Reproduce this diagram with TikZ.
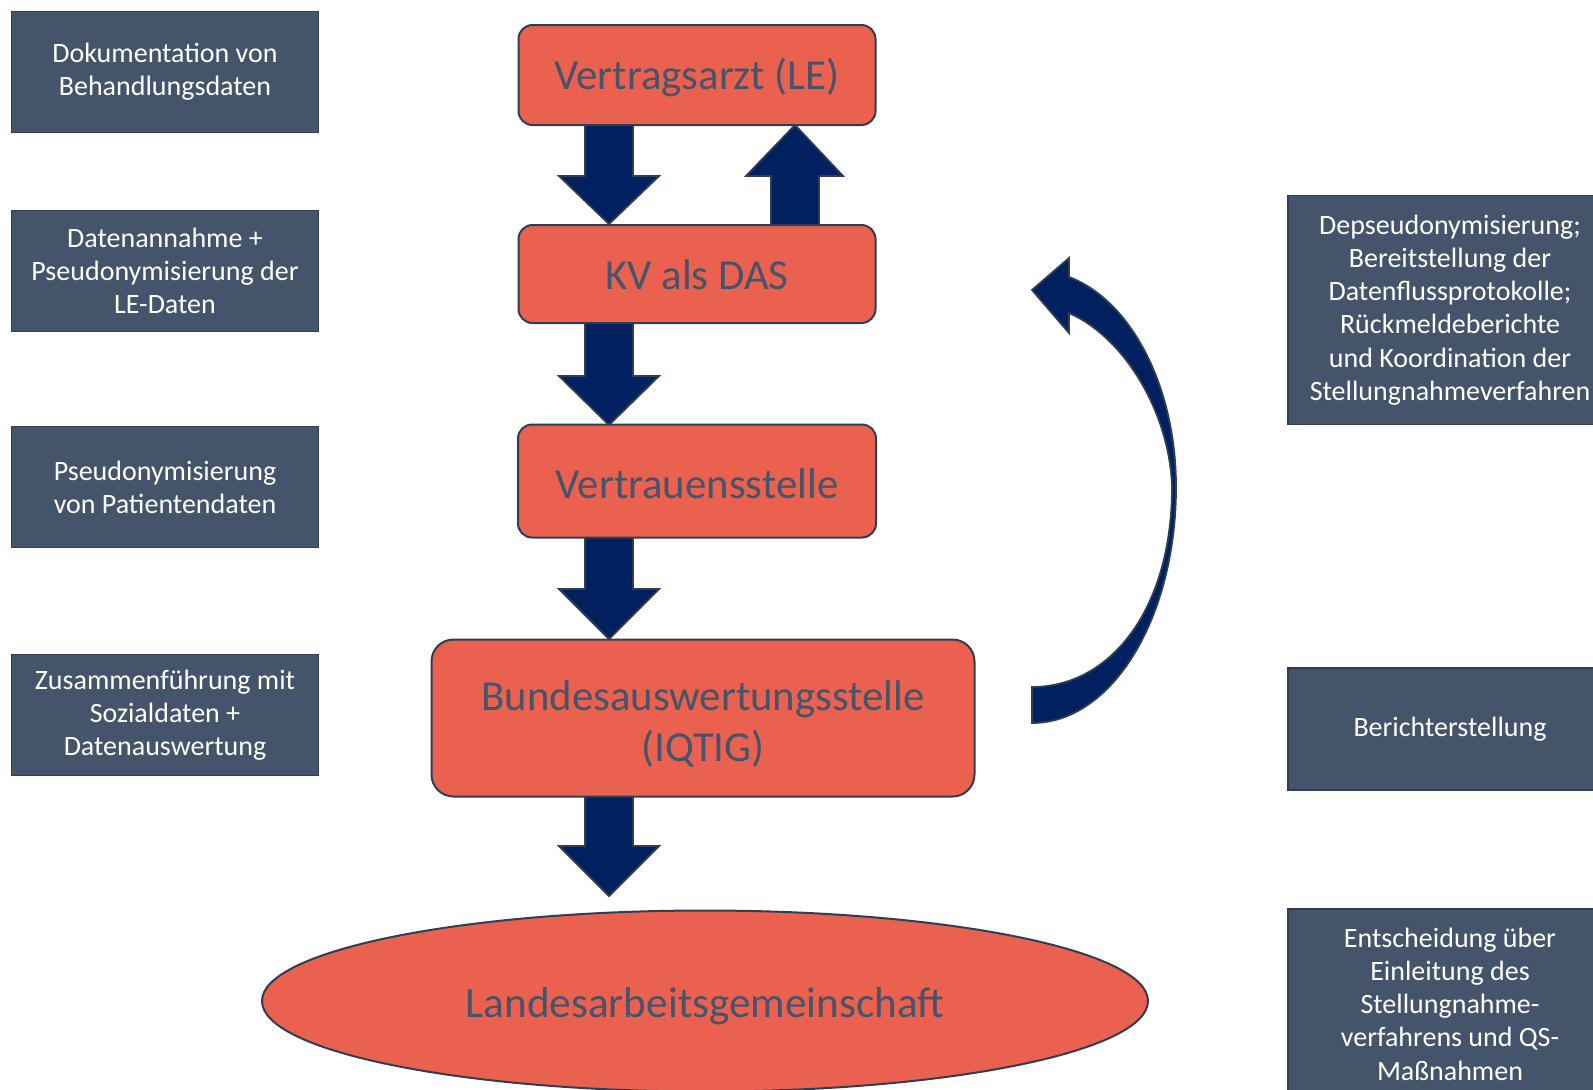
\documentclass[tikz,border=0pt]{standalone}
\usepackage{fontspec}
\setmainfont{Carlito}
\usetikzlibrary{shapes.geometric}
\definecolor{boxorange}{RGB}{235,97,80}
\definecolor{slate}{RGB}{68,84,106}
\definecolor{edgec}{RGB}{47,62,80}
\definecolor{navy}{RGB}{0,32,96}
\newcommand\dnarrow[4]{% x, ytop, ybase, ytip
  \draw[blockarrow] (#1-24,#2) -- (#1+24,#2) -- (#1+24,#3) -- (#1+50,#3) -- (#1,#4) -- (#1-50,#3) -- (#1-24,#3) -- cycle;}
\begin{document}
\begin{tikzpicture}[x=0.5pt,y=-0.5pt,
  infobox/.style={draw=edgec, line width=0.8pt, fill=slate, text=white,
    font=\fontsize{14}{16.6}\selectfont, align=center, inner sep=0pt},
  mainbox/.style={draw=edgec, line width=1pt, fill=boxorange, text=slate,
    rounded corners=7pt, font=\fontsize{21.4}{25.5}\selectfont, align=center, inner sep=0pt},
  blockarrow/.style={fill=navy, draw=edgec, line width=0.9pt, line join=miter}]
\useasboundingbox (0,0) rectangle (1593,1089);
\clip (0,0) rectangle (1593,1089);

% left info boxes
\node[infobox, minimum width=153.5pt, minimum height=60.5pt] (l1) at (165,72) {Dokumentation von\\Behandlungsdaten};
\node[infobox, minimum width=153.5pt, minimum height=60.5pt] (l2) at (165,271) {Datenannahme +\\Pseudonymisierung der\\LE-Daten};
\node[infobox, minimum width=153.5pt, minimum height=60.5pt] (l3) at (165,487) {Pseudonymisierung\\von Patientendaten};
\node[infobox, minimum width=153.5pt, minimum height=60.5pt] (l4) at (165,715) {Zusammenführung mit\\Sozialdaten +\\Datenauswertung};

% right info boxes
\node[infobox, minimum width=162pt, minimum height=114.5pt] (r1) at (1450,310) {Depseudonymisierung;\\Bereitstellung der\\Datenflussprotokolle;\\Rückmeldeberichte\\und Koordination der\\Stellungnahmeverfahren};
\node[infobox, minimum width=162pt, minimum height=61pt] (r2) at (1450,729) {Berichterstellung};
\node[infobox, minimum width=162pt, minimum height=95pt] (r3) at (1450,1004) {Entscheidung über\\Einleitung des\\Stellungnahme-\\verfahrens und QS-\\Maßnahmen};

% block arrows (under the boxes)
\dnarrow{609}{120}{176}{224}
\draw[blockarrow] (771,230) -- (819,230) -- (819,176) -- (843,176) -- (795,125) -- (746,176) -- (771,176) -- cycle;
\dnarrow{609}{318}{376}{425}
\dnarrow{609}{533}{589}{639}
\dnarrow{609}{790}{846}{896}

% main boxes
\node[mainbox, minimum width=178.5pt, minimum height=50pt, text height=19pt, text depth=4.5pt] (va) at (697,75) {Vertragsarzt (LE)};
\node[mainbox, minimum width=178.5pt, minimum height=49pt, text height=20pt, text depth=4.5pt] (kv) at (697,274) {KV als DAS};
\node[mainbox, minimum width=179pt, minimum height=56.5pt, text height=22pt, text depth=4.5pt] (vs) at (697,481) {Vertrauensstelle};
\node[mainbox, rounded corners=11pt, minimum width=271.5pt, minimum height=78.5pt] (bas) at (703,718) {\rule{0pt}{21pt}Bundesauswertungsstelle\\(IQTIG)};
\node[ellipse, draw=edgec, line width=1pt, fill=boxorange, text=slate, font=\fontsize{21.6}{25.5}\selectfont,
  minimum width=443pt, minimum height=90.5pt, inner sep=0pt, text height=21pt, text depth=4.5pt] (lag) at (705,1001) {Landesarbeitsgemeinschaft};

% curved feedback arrow
\draw[blockarrow]
  (1032,723) .. controls (1112,723) and (1176,618) .. (1176,487)
  .. controls (1176,385) and (1130,300) .. (1069,277)
  -- (1069,258) -- (1032,290) -- (1069,333) -- (1069,313)
  .. controls (1126,338) and (1170,415) .. (1172,487)
  .. controls (1172,610) and (1110,687) .. (1032,687) -- cycle;
\end{tikzpicture}
\end{document}
